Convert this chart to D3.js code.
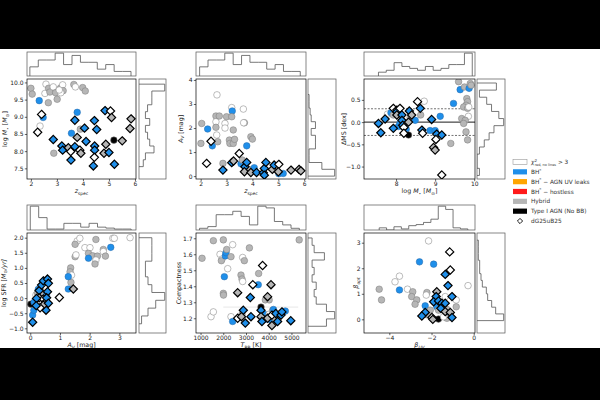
<!DOCTYPE html>
<html><head><meta charset="utf-8">
<script src="https://cdn.jsdelivr.net/npm/d3@7"></script>
<style>body{margin:0;background:#000}svg{display:block}text{font-family:"DejaVu Sans",sans-serif}</style>
</head><body><svg id="c" width="600" height="400"></svg>
<script>
// ---------------- DATA ----------------
// points: [x, y, category, dG25uB25 flag]; categories: o = chi2>3 (open), g = Hybrid, b = BH*, k = Type I AGN
const pZM = [[2.00,9.83,'g',0],[2.05,9.66,'g',0],[2.54,9.68,'o',0],[2.58,9.95,'o',0],[2.68,9.83,'g',0],[2.73,9.72,'g',0],[2.86,9.87,'o',0],[2.95,9.70,'g',0],[3.01,9.51,'g',0],[3.14,9.84,'g',0],[3.22,9.93,'o',0],[3.24,9.76,'g',0],[3.15,9.70,'o',0],[3.09,9.78,'o',0],[3.65,9.94,'g',0],[3.71,9.87,'o',0],[3.99,9.85,'g',0],[4.09,9.75,'g',0],[2.67,9.41,'g',0],[2.32,9.47,'b',0],
[2.41,9.07,'o',1],[2.47,8.98,'b',0],[2.35,8.73,'o',0],[2.26,8.55,'o',1],[3.78,9.13,'b',0],[3.69,8.90,'b',1],[3.90,8.64,'g',0],[4.06,8.67,'b',1],[3.56,8.52,'b',0],[3.78,8.40,'g',1],[4.12,8.28,'b',1],[4.44,8.89,'b',1],[4.53,8.63,'b',1],[4.85,9.18,'b',1],[5.06,9.17,'o',1],[5.10,8.98,'g',1],[5.81,8.66,'g',1],[5.85,8.94,'g',1],[5.19,8.32,'k',0],[5.51,8.30,'g',1],[4.88,8.20,'g',1],[2.86,8.34,'b',1],[3.19,8.15,'b',1],[3.22,8.03,'b',1],[3.44,8.10,'g',1],[3.53,7.99,'o',1],[3.69,8.13,'b',1],[3.88,8.03,'o',1],[3.92,7.94,'g',1],[2.88,7.94,'g',0],[3.54,7.74,'b',1],[4.45,8.15,'b',1],[4.45,8.03,'b',1],[4.44,7.82,'o',1],[4.40,7.57,'b',1],[4.81,7.94,'g',1],[5.00,7.96,'b',1],[5.21,7.62,'b',1]];

const pZAv = [[2.01,1.36,'g',0],[2.04,2.19,'g',0],[2.27,1.96,'b',0],[2.23,0.53,'o',1],[2.45,1.26,'b',0],[2.40,1.45,'o',1],[2.63,3.38,'o',0],[2.59,2.50,'g',0],[2.59,2.26,'o',0],[2.59,2.03,'g',0],[2.62,1.71,'o',0],[2.66,1.43,'g',0],[2.72,2.50,'g',0],[2.86,0.53,'g',0],[2.86,0.25,'b',1],[2.94,2.19,'o',0],[2.94,2.00,'o',0],[3.00,2.47,'g',0],[3.11,1.50,'g',0],[3.13,1.36,'g',0],[3.26,1.36,'g',0],[3.31,1.53,'g',0],[3.20,2.85,'o',0],[3.22,2.71,'b',0],[3.20,2.47,'g',0],[3.20,0.56,'b',1],[3.27,0.63,'g',1],[3.26,1.92,'g',0],[3.49,0.94,'o',1],[3.65,2.79,'o',0],[3.69,2.22,'g',0],[3.66,2.22,'o',0],[3.78,1.26,'b',0],[3.56,0.51,'b',0],[3.61,0.67,'g',0],[3.71,0.39,'b',1],[3.69,0.18,'g',1],[3.78,0.57,'b',1],[3.84,0.29,'g',0],[3.94,1.64,'g',0],[4.00,1.54,'g',0],[3.94,0.15,'g',1],[4.07,0.35,'b',0],[4.16,0.15,'b',1],[4.42,0.14,'b',1],[4.46,0.32,'b',1],[4.46,0.04,'b',1],[4.52,0.57,'b',1],[4.77,0.28,'g',1],[4.84,0.46,'b',1],[5.02,0.49,'o',1],[5.00,0.18,'g',1],[5.02,0.10,'b',0],[5.19,0.11,'b',0],[5.49,0.25,'g',1],[5.80,0.28,'g',1],[5.87,0.22,'g',1]];

const pMdMS = [[7.55,-0.03,'b',1],[7.61,-0.24,'b',1],[7.72,0.07,'b',1],[7.78,0.18,'o',0],[7.87,0.21,'b',0],[7.93,0.31,'o',1],[8.02,0.27,'g',1],[8.02,0.23,'b',1],[7.93,-0.14,'b',1],[8.06,-0.10,'b',0],[7.93,0.16,'g',0],[8.10,0.31,'o',1],[8.02,0.16,'g',1],[8.15,0.16,'b',1],[8.15,0.04,'b',1],[8.10,-0.03,'b',0],[8.17,-0.07,'b',1],[8.20,-0.12,'o',1],[8.26,-0.16,'b',0],[8.20,-0.25,'o',1],[8.32,-0.29,'k',0],[8.34,0.25,'b',1],[8.36,0.10,'g',0],[8.32,0.00,'g',1],[8.40,0.16,'g',1],[8.49,0.04,'b',0],[8.55,0.46,'o',1],[8.72,0.47,'o',0],[8.62,0.31,'b',1],[8.63,0.16,'g',0],[8.66,-0.18,'b',1],[8.68,-0.25,'o',1],[8.91,0.06,'b',1],[8.87,-0.19,'b',0],[9.00,-0.19,'b',0],[9.04,-0.27,'b',1],[9.02,-0.39,'o',1],[8.96,-0.57,'g',1],[9.00,-0.63,'g',1],[9.13,0.13,'b',0],[9.17,-0.29,'b',1],[9.40,-0.48,'g',0],[9.17,-1.19,'o',1],[9.47,0.42,'b',0],[9.60,0.91,'g',0],[9.64,0.73,'b',0],[9.75,0.79,'g',0],[9.87,0.76,'b',0],[9.90,0.87,'g',0],[9.92,0.83,'g',0],[9.81,0.53,'g',0],[9.83,0.46,'g',0],[9.79,0.38,'g',0],[9.73,0.34,'g',0],[9.83,0.31,'g',0],[9.85,0.13,'o',0],[9.68,0.08,'g',0],[9.77,0.04,'g',0],[9.73,-0.03,'g',0],[9.79,-0.22,'g',0],[9.83,-0.40,'g',0],[9.86,0.34,'o',0]];

const pAvSFR = [[1.58,1.89,'o',0],[1.67,1.98,'o',0],[1.51,1.78,'g',0],[1.84,1.67,'o',0],[2.21,1.94,'g',0],[2.78,1.98,'o',0],[2.83,1.98,'o',0],[3.36,2.00,'o',0],[2.01,1.67,'o',0],[1.96,1.48,'g',0],[2.10,1.40,'g',0],[2.26,1.39,'g',0],[2.46,1.61,'g',0],[2.46,1.54,'o',0],[2.53,1.39,'g',0],[2.21,1.26,'o',0],[2.18,1.13,'g',0],[1.96,1.32,'b',0],[2.71,1.68,'b',0],[1.51,1.37,'g',0],[1.54,1.43,'o',0],[1.36,1.00,'g',0],[1.34,0.87,'g',0],[1.39,0.76,'o',0],[1.37,0.52,'g',0],[1.28,0.71,'b',0],[1.28,0.30,'b',0],[1.45,0.30,'g',1],[0.98,0.02,'o',1],
[0.08,-0.80,'b',1],[0.08,-0.56,'b',0],[0.12,-0.40,'b',0],[0.02,-0.20,'k',0],[0.16,-0.10,'g',0],[0.19,0.10,'o',0],[0.24,0.18,'g',0],[0.13,-0.14,'b',0],[0.27,0.29,'b',0],[0.30,0.25,'b',1],[0.38,0.43,'b',1],[0.44,0.57,'b',1],[0.38,0.10,'g',0],[0.30,0.01,'g',1],[0.44,-0.03,'o',1],[0.53,-0.12,'g',1],[0.55,0.10,'b',0],[0.58,0.21,'b',1],[0.55,0.01,'b',1],[0.58,0.63,'b',1],[0.61,0.49,'b',1],[0.53,-0.40,'b',1],[0.44,-0.23,'g',1],[0.33,-0.32,'o',1],[0.21,-0.01,'b',1],[0.53,-0.17,'g',0],[0.61,-0.17,'b',1],[0.26,0.05,'g',0],[0.35,0.30,'g',0],[0.20,-0.25,'b',1]];

const pTC = [[1066,1.575,'g',0],[1564,1.685,'g',0],[1461,1.21,'o',0],[1564,1.24,'o',0],[1857,1.60,'o',0],[1945,1.57,'o',0],[1916,1.56,'g',0],[2003,1.69,'g',0],[2091,1.59,'b',0],[2120,1.61,'b',0],[2150,1.63,'g',0],[2413,1.66,'o',0],[2340,1.585,'g',0],[2194,1.51,'o',0],[2047,1.46,'b',0],[2003,1.356,'g',0],[2010,1.345,'g',0],[2340,1.21,'o',0],[2413,1.18,'b',0],[2633,1.36,'g',1],[2780,1.47,'g',0],[2824,1.445,'g',0],[2853,1.43,'o',0],[2853,1.58,'o',0],[2927,1.56,'g',0],[3150,1.64,'g',0],[2882,1.25,'b',1],[2824,1.225,'g',0],[2633,1.20,'o',1],[2800,1.21,'g',1],[2970,1.17,'b',1],[3219,1.21,'b',1],[3190,1.33,'b',1],[3300,1.41,'o',1],[3540,1.41,'b',0],[3556,1.48,'g',0],[3730,1.53,'o',1],[3660,1.27,'k',0],[3660,1.25,'b',1],[3660,1.21,'g',1],[3700,1.18,'b',1],[3850,1.315,'g',0],[3950,1.335,'g',1],[4020,1.315,'g',0],[4100,1.41,'g',1],[3800,1.225,'b',0],[3880,1.195,'b',0],[3950,1.20,'g',1],[4020,1.225,'o',0],[4100,1.19,'b',0],[4140,1.22,'o',1],[4170,1.25,'g',0],[4210,1.255,'b',0],[4310,1.23,'b',1],[4390,1.18,'b',1],[4140,1.155,'g',1],[4540,1.22,'b',1],[4580,1.24,'b',1],[4730,1.245,'b',0],[4970,1.185,'b',1],[5340,1.69,'g',0],[4460,1.21,'g',0],[4280,1.20,'g',0]];

const pBeta = [[-2.14,3.07,'o',0],[-1.14,2.64,'o',1],[-2.57,2.25,'b',0],[-1.90,2.16,'b',0],[-1.11,1.93,'o',1],[-1.35,1.76,'b',1],[-3.52,1.69,'o',0],[-3.73,1.47,'o',0],[-0.27,1.32,'o',0],[-1.22,1.32,'b',1],[-4.48,1.18,'g',0],[-3.52,1.15,'b',0],[-3.14,1.18,'o',0],[-2.89,1.08,'g',0],[-4.37,0.76,'g',0],[-2.94,0.89,'g',0],[-2.22,1.05,'g',0],[-2.25,0.95,'o',0],[-1.75,1.08,'g',1],[-1.78,0.89,'b',1],[-1.35,0.89,'o',0],[-1.03,0.89,'b',1],[-0.83,0.76,'o',0],[-2.70,0.76,'g',0],[-2.78,0.59,'g',0],[-2.30,0.53,'b',0],[-1.90,0.69,'b',1],[-1.67,0.72,'b',1],[-1.51,0.63,'b',1],[-1.35,0.63,'b',1],[-1.75,0.49,'b',0],[-1.56,0.43,'b',1],[-1.27,0.39,'g',0],[-0.83,0.49,'g',0],[-2.06,0.36,'g',0],[-2.30,0.27,'b',1],[-2.46,0.13,'b',1],[-2.19,0.17,'g',0],[-1.98,0.07,'o',1],[-1.94,0.00,'g',1],[-1.67,0.01,'k',0],[-1.35,0.30,'g',1],[-1.27,0.23,'b',0],[-1.11,0.27,'g',1],[-1.14,0.14,'b',0],[-1.03,0.07,'b',1],[-1.27,0.04,'g',0],[-1.43,0.10,'o',0],[-1.67,0.36,'g',0]];

// histograms: [first edge, bin width] and counts
const histZBins = [1.96, 0.324];   const histZCounts = [4,7,7,10,5,9,6,6,3,5,2,2];
const histMBins = [7.55, 0.2];     const histMCounts = [2,3,7,5,4,3,5,3,4,6,6,12];
const histAvBins = [0.0, 0.283];   const histAvCounts = [25,13,1,1,7,7,3,7,3,2,1,1];
const histMSBins = [-1.2, 0.16];   const histMSCounts = [1,0,0,1,3,5,7,11,9,6,4,1,8];
const histSFRBins = [-0.85, 0.259]; const histSFRCounts = [2,7,13,20,10,7,5,5,10,10,10];
const histTBins = [955, 366];      const histTCounts = [1,2,9,9,11,8,3,14,13,5,3,1];
const histCBins = [1.15, 0.046];   const histCCounts = [9,13,9,4,3,4,2,3,2,8,3,2];
const histBUVBins = [-4.48, 0.35]; const histBUVCounts = [2,0,3,1,4,5,7,10,22,19,2,1];
const histBoptBins = [-0.05, 0.2625]; const histBoptCounts = [20,14,11,8,7,4,3,2,2,1,1,1];

// tick values
const ticksZ = [2,3,4,5,6], ticksM = [7.5,8,8.5,9,9.5,10], ticksAv = [0,1,2,3,4];
const ticksMx = [8,9,10], ticksMS = [-1,-0.5,0,0.5];
const ticksAvx = [0,1,2,3], ticksSFR = [-1,-0.5,0,0.5,1,1.5,2];
const ticksT = [1000,2000,3000,4000,5000], ticksC = [1.2,1.3,1.4,1.5,1.6,1.7];
const ticksBUV = [-4,-2,0], ticksBopt = [0,1,2,3];
const msLines = [-0.3, 0, 0.3];
const tcErr = [[2000,5300,1.27]];

const legendItems = [
  {k:'o', t:[['χ','i'],['2','sup'],['red, no lines','subb'],[' > 3','']]},
  {k:'b', t:[['BH','']  ,['*','sup']]},
  {k:'y', t:[['BH',''],['*','sup'],[' − AGN UV leaks','']]},
  {k:'r', t:[['BH',''],['*','sup'],[' − hostless','']]},
  {k:'g', t:[['Hybrid','']]},
  {k:'k', t:[['Type I AGN (No BB)','']]},
  {k:'d', t:[['dG25uB25','']]}
];

// ---------------- DRAWING ----------------
const COL = {o:'#ffffff', g:'#b6b6b6', b:'#1f8fea', k:'#000000', y:'#ffa500', r:'#ff1a1a'};
const svg = d3.select('#c');
svg.append('rect').attr('width',600).attr('height',400).attr('fill','#fff');
const defs = svg.append('defs');
let clipN = 0;
function clip(x,y,w,h){const id='cl'+(clipN++);defs.append('clipPath').attr('id',id).append('rect').attr('x',x).attr('y',y).attr('width',w).attr('height',h);return 'url(#'+id+')';}

function rich(sel, parts, fs){
  let cur = 0;
  parts.forEach(([s,st])=>{
    let target=0, size=fs, dx=0, ital=false;
    if(st==='i') ital=true;
    if(st==='sub'){target=fs*0.25;size=fs*0.7;}
    if(st==='subi'){target=fs*0.25;size=fs*0.7;ital=true;}
    if(st==='sup'){target=-fs*0.4;size=fs*0.7;}
    if(st==='subb'){target=fs*0.3;size=fs*0.6;dx=-fs*0.4;}
    const t = sel.append('tspan').text(s).attr('font-size',size);
    if(target-cur!==0) t.attr('dy',target-cur);
    if(ital) t.attr('font-style','italic');
    if(dx) t.attr('dx',dx);
    cur = target;
  });
}

function edges(b,c){return d3.range(c.length+1).map(i=>b[0]+i*b[1]);}

const diamond = s => `M0,${-s}L${s},0L0,${s}L${-s},0Z`;

function panel(cfg){
  const {L,R,T,B,rL,rR,hT,hB} = cfg;
  const x = d3.scaleLinear().domain(cfg.xd).range([L,R]);
  const y = d3.scaleLinear().domain(cfg.yd).range([B,T]);
  const g = svg.append('g');
  const fs = 6.0, lfs = 6.3;

  // top histogram
  const te = edges(cfg.hx[0], cfg.hx[1]);
  const hc = d3.scaleLinear().domain([0, d3.max(cfg.hx[1])*1.05]).range([hB,hT]);
  const tp = [[te[0],0]];
  cfg.hx[1].forEach((c,i)=>{tp.push([te[i],c]);tp.push([te[i+1],c]);});
  tp.push([te[te.length-1],0]);
  g.append('path').attr('clip-path',clip(L,hT,R-L,hB-hT))
    .attr('d',d3.line().x(d=>x(d[0])).y(d=>hc(d[1]))(tp))
    .attr('fill','none').attr('stroke','#555').attr('stroke-width',0.8);
  g.append('rect').attr('x',L).attr('y',hT).attr('width',R-L).attr('height',hB-hT)
    .attr('fill','none').attr('stroke','#555').attr('stroke-width',0.7);

  // right histogram
  const re = edges(cfg.hy[0], cfg.hy[1]);
  const vc = d3.scaleLinear().domain([0, d3.max(cfg.hy[1])*1.05]).range([rL,rR]);
  const rp = [[re[0],0]];
  cfg.hy[1].forEach((c,i)=>{rp.push([re[i],c]);rp.push([re[i+1],c]);});
  rp.push([re[re.length-1],0]);
  g.append('path').attr('clip-path',clip(rL,T,rR-rL,B-T))
    .attr('d',d3.line().x(d=>vc(d[1])).y(d=>y(d[0]))(rp))
    .attr('fill','none').attr('stroke','#555').attr('stroke-width',0.8);
  g.append('rect').attr('x',rL).attr('y',T).attr('width',rR-rL).attr('height',B-T)
    .attr('fill','none').attr('stroke','#555').attr('stroke-width',0.7);

  // main
  const m = g.append('g').attr('clip-path',clip(L,T,R-L,B-T));
  if(cfg.extra) cfg.extra(m,x,y);
  const pts = cfg.pts;
  const circ = pts.filter(d=>!d[3]), dia = pts.filter(d=>d[3]);
  m.selectAll('circle.pt').data(circ).join('circle').attr('class','pt')
    .attr('cx',d=>x(d[0])).attr('cy',d=>y(d[1])).attr('r',3.3)
    .attr('fill',d=>COL[d[2]]).attr('stroke',d=>d[2]==='b'?'#2a6aa8':'#7a7a7a').attr('stroke-width',0.5);
  m.selectAll('path.dm').data(dia).join('path').attr('class','dm')
    .attr('transform',d=>`translate(${x(d[0])},${y(d[1])})`).attr('d',diamond(4.1))
    .attr('fill',d=>COL[d[2]]).attr('stroke','#000').attr('stroke-width',1.2).attr('stroke-linejoin','miter');

  g.append('rect').attr('x',L).attr('y',T).attr('width',R-L).attr('height',B-T)
    .attr('fill','none').attr('stroke','#000').attr('stroke-width',0.7);

  const ax = g.append('g').attr('transform',`translate(0,${B})`)
    .call(d3.axisBottom(x).tickValues(cfg.xt).tickFormat(cfg.xf).tickSize(2.2).tickPadding(0.6));
  const ay = g.append('g').attr('transform',`translate(${L},0)`)
    .call(d3.axisLeft(y).tickValues(cfg.yt).tickFormat(cfg.yf).tickSize(2.2).tickPadding(1.2));
  [ax,ay].forEach(a=>{a.select('.domain').remove();
    a.attr('font-family','DejaVu Sans').attr('font-size',fs);
    a.selectAll('line').attr('stroke','#000').attr('stroke-width',0.6);
    a.selectAll('text').attr('fill','#222');});

  const xl = g.append('text').attr('x',(L+R)/2).attr('y',B+14.4).attr('text-anchor','middle')
    .attr('font-size',lfs).attr('fill','#222');
  rich(xl,cfg.xlab,lfs);
  const yc=(T+B)/2, yx=L-cfg.yoff;
  const yl = g.append('text').attr('transform',`translate(${yx},${yc}) rotate(-90)`).attr('text-anchor','middle')
    .attr('font-size',lfs).attr('fill','#222');
  rich(yl,cfg.ylab,lfs);
}

const f1 = d3.format('.1f'), f0 = d3.format('d');
const row1 = {T:79,B:179,hT:52,hB:76}, row2 = {T:233,B:333,hT:205,hB:230};
const col1 = {L:27,R:136,rL:139,rR:166}, col2 = {L:196,R:306,rL:308,rR:336}, col3 = {L:364,R:475,rL:477,rR:505};
const labMstar = [['log ',''],['M','i'],['⋆','sub'],[' [',''],['M','i'],['⊙','sub'],[']','']];
const labZ = [['z','i'],['spec','sub']];
const labAv = [['A','i'],['V','subi'],[' [mag]','']];

panel({...row1,...col1, xd:[1.85,6.04], yd:[7.19,10.1], xt:ticksZ, yt:ticksM, xf:f0, yf:f1, pts:pZM,
  hx:[histZBins,histZCounts], hy:[histMBins,histMCounts], xlab:labZ, ylab:labMstar, yoff:20});
panel({...row1,...col2, xd:[1.82,6.07], yd:[-0.12,4.04], xt:ticksZ, yt:ticksAv, xf:f0, yf:f0, pts:pZAv,
  hx:[histZBins,histZCounts], hy:[histAvBins,histAvCounts], xlab:labZ, ylab:labAv, yoff:13.5});
panel({...row1,...col3, xd:[7.18,10.02], yd:[-1.28,0.97], xt:ticksMx, yt:ticksMS, xf:f0, yf:f1, pts:pMdMS,
  hx:[histMBins,histMCounts], hy:[histMSBins,histMSCounts], xlab:labMstar, ylab:[['ΔMS [dex]','']], yoff:18.5,
  extra:(m,x,y)=>{msLines.forEach(v=>{m.append('line').attr('x1',x.range()[0]).attr('x2',x.range()[1]).attr('y1',y(v)).attr('y2',y(v))
     .attr('stroke',v===0?'#000':'#333').attr('stroke-width',v===0?0.9:0.7).attr('stroke-dasharray',v===0?null:'2,1.5');});}});
panel({...row2,...col1, xd:[-0.11,3.56], yd:[-1.155,2.155], xt:ticksAvx, yt:ticksSFR, xf:f0, yf:f1, pts:pAvSFR,
  hx:[histAvBins,histAvCounts], hy:[histSFRBins,histSFRCounts], xlab:labAv,
  ylab:[['log SFR [',''],['M','i'],['⊙','sub'],['/yr]','i']], yoff:21.5});
panel({...row2,...col2, xd:[800,5640], yd:[1.108,1.733], xt:ticksT, yt:ticksC, xf:f0, yf:f1, pts:pTC,
  hx:[histTBins,histTCounts], hy:[histCBins,histCCounts], xlab:[['T','i'],['BB','sub'],[' [K]','']], ylab:[['Compactness','']], yoff:15,
  extra:(m,x,y)=>{tcErr.forEach(e=>m.append('line').attr('x1',x(e[0])).attr('x2',x(e[1])).attr('y1',y(e[2])).attr('y2',y(e[2])).attr('stroke','#e2e2e2').attr('stroke-width',0.8));}});
panel({...row2,...col3, xd:[-5.2,0.06], yd:[-0.535,3.38], xt:ticksBUV, yt:ticksBopt, xf:f0, yf:f0, pts:pBeta,
  hx:[histBUVBins,histBUVCounts], hy:[histBoptBins,histBoptCounts], xlab:[['β','i'],['UV','subi']], ylab:[['β','i'],['opt','subi']], yoff:6});

// legend
const lg = svg.append('g');
const ly = d3.scalePoint().domain(d3.range(legendItems.length)).range([162,221]);
legendItems.forEach((it,i)=>{
  const yy = ly(i);
  if(it.k==='d'){
    lg.append('path').attr('transform',`translate(520,${yy})`).attr('d',diamond(2.6)).attr('fill','#fff').attr('stroke','#000').attr('stroke-width',0.9);
  } else {
    lg.append('rect').attr('x',513).attr('y',yy-2.6).attr('width',14).attr('height',5.2)
      .attr('fill',COL[it.k]).attr('stroke',it.k==='o'?'#999':'none').attr('stroke-width',0.6);
  }
  const t = lg.append('text').attr('x',531).attr('y',yy+2).attr('font-size',5.8).attr('fill','#333');
  rich(t,it.t,5.8);
});

// letterbox bands
svg.append('rect').attr('x',0).attr('y',0).attr('width',600).attr('height',49).attr('fill','#000');
svg.append('rect').attr('x',0).attr('y',348).attr('width',600).attr('height',52).attr('fill','#000');
</script></body></html>
